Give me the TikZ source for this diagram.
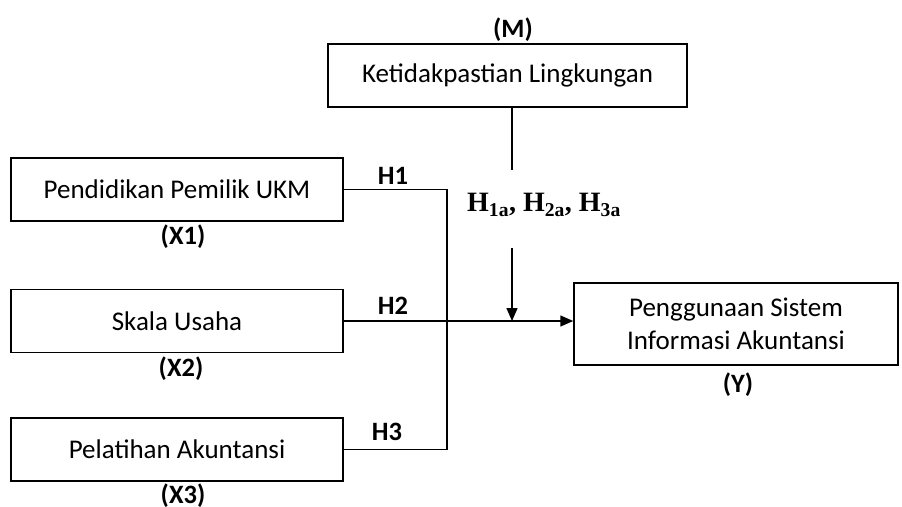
\documentclass[tikz,border=0pt]{standalone}
\usepackage{fontspec}
\setmainfont{Carlito}
\newfontfamily\timesfont{Liberation Serif}
\usetikzlibrary{arrows.meta}

\begin{document}
\begin{tikzpicture}[x=1pt,y=-1pt,
  varbox/.style={draw=black,line width=1.5pt,minimum width=332pt,minimum height=63pt,
    inner sep=0pt,align=center,font=\fontsize{27}{33}\selectfont},
  tag/.style={font=\fontsize{26.5}{32}\selectfont\bfseries,inner sep=0pt},
  link/.style={black,line width=1.5pt},
  >={Triangle[length=13pt,width=11pt]}]
\useasboundingbox (0,0) rectangle (902,506);

\node[varbox] (x1) at (177,189.5) {Pendidikan Pemilik UKM};
\node[varbox] (x2) at (177,321) {Skala Usaha};
\node[varbox] (x3) at (177,449.5) {Pelatihan Akuntansi};
\node[varbox,minimum width=359pt] (m) at (507.5,75.5) {Ketidakpastian Lingkungan};
\node[varbox,minimum width=324pt,minimum height=82pt,
  font=\fontsize{27}{33}\selectfont] (y) at (736,324)
  {Penggunaan Sistem\\Informasi Akuntansi};

\foreach \Nm/\Xc/\Yc/\Texto in {lx1/183/237/(X1),lx2/181/369/(X2),lx3/183/496/(X3),
  lm/513/30/(M),ly/738/385/(Y),h1/393/176/H1,h2/393/306/H2,h3/387/432/H3}
{
  \node[tag] (\Nm) at (\Xc,\Yc) {\Texto};
}

\coordinate (jn) at (447,321);
\draw[link] (x1.east) -| (jn);
\draw[link] (x3.east) -| (jn);
\draw[link,->] (x2.east) -- (x2.east -| y.west);

\coordinate (mt) at (512,170);
\coordinate (ma) at (512,248);
\draw[link] (m.south -| mt) -- (mt);
\node[font=\timesfont\fontsize{28}{32}\selectfont\bfseries,inner sep=0pt] (hm) at (544,205)
  {H\textsubscript{1a}, H\textsubscript{2a}, H\textsubscript{3a}};
\draw[link,->] (ma) -- (ma |- x2.east);
\end{tikzpicture}
\end{document}
